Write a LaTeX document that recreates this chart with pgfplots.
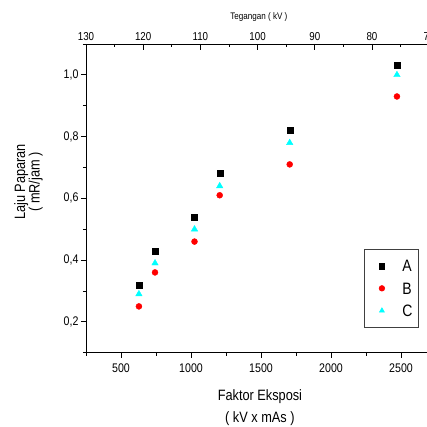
\documentclass[border=0pt]{standalone}
\usepackage{fontspec}
\setmainfont{Liberation Sans}[FakeStretch=0.85]
\usepackage{pgfplots}
\pgfplotsset{compat=1.18}
\definecolor{mycyan}{RGB}{0,255,255}
\definecolor{myred}{RGB}{255,0,0}
\begin{document}
\begin{tikzpicture}
\begin{axis}[name=main,
  scale only axis, width=341pt, height=308.7pt,
  xmin=250, xmax=2685.7, ymin=0.1, ymax=1.1,
  axis x line*=bottom, axis y line*=left,
  axis line style={line width=0.8pt, -},
  every tick/.style={black, line width=0.8pt},
  tick align=outside,
  major tick length=5pt, minor tick length=3pt,
  xtick={500,1000,1500,2000,2500},
  minor xtick={250,750,1250,1750,2250},
  ytick={0.2,0.4,0.6,0.8,1.0},
  minor ytick={0.1,0.3,0.5,0.7,0.9,1.1},
  /pgf/number format/assume math mode=true,
  yticklabel style={xshift=1pt, /pgf/number format/.cd, use comma, fixed, precision=1, fixed zerofill},
  xticklabel style={yshift=-3pt, /pgf/number format/.cd, fixed, 1000 sep={}},
  tick label style={font=\fontsize{12.5}{14}\selectfont},
  clip=false,
  legend style={at={(rel axis cs:0.815,0.336)}, anchor=north west, draw=black!75, line width=0.6pt,
    font=\fontsize{16.5}{18}\selectfont, row sep=10.8pt, inner xsep=0pt, inner ysep=11pt,
    nodes={inner sep=0pt, text height=11.5pt, text depth=0pt}},
  legend cell align=left,
  legend image code/.code={\path[draw=none, fill=none] (-17.7pt,-3pt) rectangle (20.5pt,3pt);
    \draw[#1, mark size=2.8pt] plot coordinates {(0pt,0pt)};},
]
\addplot[only marks, mark=square*, mark size=3pt, color=black] coordinates {
 (628,0.32) (743,0.43) (1025,0.54) (1205,0.68) (1705,0.82) (2471,1.03)};
\addlegendentry{\makebox[15.5pt][l]{A}}
\addplot[only marks, mark=*, mark size=3pt, color=myred] coordinates {
 (628,0.25) (743,0.36) (1025,0.46) (1205,0.61) (1705,0.71) (2471,0.93)};
\addlegendentry{\makebox[15.5pt][l]{B}}
\addplot[only marks, mark=triangle*, mark size=3.7pt, color=mycyan] coordinates {
 (628,0.29) (743,0.39) (1025,0.50) (1205,0.64) (1705,0.78) (2471,1.00)};
\addlegendentry{\makebox[15.5pt][l]{C}}
\node[rotate=90, align=center, font=\fontsize{15}{14.5}\selectfont] at ([xshift=-57.5pt]rel axis cs:0,0.553) {Laju Paparan\\( mR/jam )};
\node[align=center, font=\fontsize{15}{22}\selectfont] at ([yshift=-55pt]rel axis cs:0.51,0) {Faktor Eksposi\\( kV x mAs )};
\end{axis}
\begin{axis}[
  scale only axis, width=341pt, height=308.7pt,
  at={(main.south west)}, anchor=south west,
  xmin=70.38, xmax=130, x dir=reverse, ymin=0, ymax=1,
  axis x line*=top, axis y line=none,
  axis line style={line width=0.8pt, -},
  every tick/.style={black, line width=0.8pt},
  tick align=inside,
  major tick length=6pt, minor tick length=3.5pt,
  xtick={80,90,100,110,120,130},
  minor xtick={75,85,95,105,115,125},
  /pgf/number format/assume math mode=true,
  tick label style={font=\fontsize{11.5}{13}\selectfont},
  clip=false,
]
\node[anchor=south, font=\fontsize{11.5}{13}\selectfont, inner sep=0.333em] at (axis cs:70,1) {70};
\node[font=\fontsize{9.5}{11}\selectfont] at ([yshift=26.5pt]rel axis cs:0.507,1) {Tegangan ( kV )};
\end{axis}
\pgfresetboundingbox
\useasboundingbox ([xshift=-86pt,yshift=-74.3pt]main.south west) rectangle ([yshift=44pt]main.north east);
\end{tikzpicture}
\end{document}
